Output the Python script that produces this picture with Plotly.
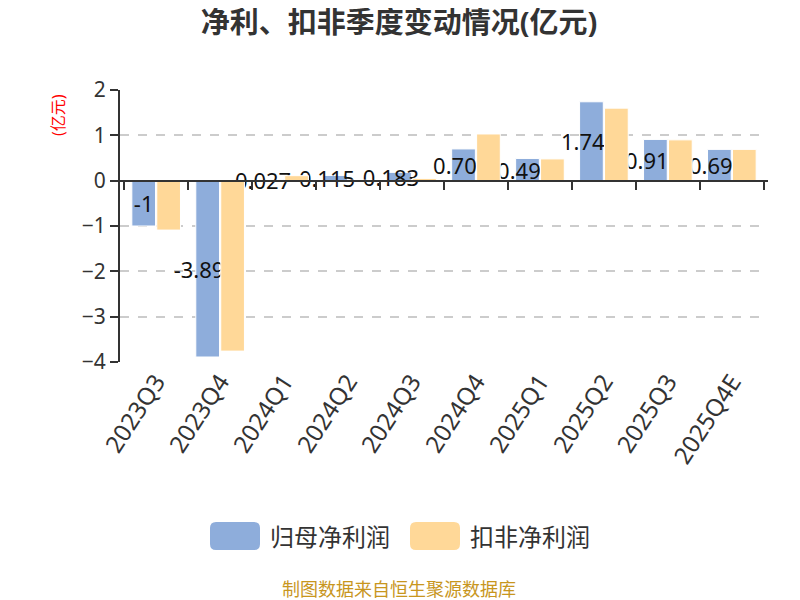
import plotly.graph_objects as go

# 季度
quarters = ["2023Q3", "2023Q4", "2024Q1", "2024Q2", "2024Q3",
            "2024Q4", "2025Q1", "2025Q2", "2025Q3", "2025Q4E"]
# 归母净利润(亿元)
net_profit = [-1.0, -3.89, 0.027, 0.115, 0.183, 0.70, 0.49, 1.74, 0.91, 0.69]
net_profit_labels = ["-1", "-3.89", "0.027", "0.115", "0.183",
                     "0.70", "0.49", "1.74", "0.91", "0.69"]
# 扣非净利润(亿元)
deducted_profit = [-1.09, -3.76, 0.11, 0.01, 0.05, 1.03, 0.48, 1.60, 0.90, 0.69]

series_names = ["归母净利润", "扣非净利润"]
series_colors = ["#8eaddb", "#ffd898"]

y_min, y_max = -4, 2
FONT = "Noto Sans, Noto Sans CJK SC, sans-serif"

W, H = 800, 600
OFF = 8  # 页面默认边距
M = dict(l=112, r=40, t=82, b=246)
PW, PH = W - M["l"] - M["r"], H - M["t"] - M["b"]


def px(x):
    return (x - OFF - M["l"]) / PW


def py(y):
    return (H - M["b"] - (y - OFF)) / PH


# 原图的数值标签略偏左, 用不换行空格补齐
label_text = [t + "\u00a0" * (3 if len(t) > 2 else 0) for t in net_profit_labels]

fig = go.Figure()
fig.add_trace(go.Bar(
    x=quarters, y=net_profit, name=series_names[0],
    marker=dict(color=series_colors[0], line=dict(color="#ffffff", width=1)),
    text=label_text, textposition="inside", insidetextanchor="middle",
    constraintext="none", textangle=0,
    insidetextfont=dict(color="#111111", size=22, family=FONT),
    cliponaxis=False, hoverinfo="x+y", showlegend=False,
))
fig.add_trace(go.Bar(
    x=quarters, y=deducted_profit, name=series_names[1],
    marker=dict(color=series_colors[1], line=dict(color="#ffffff", width=1)),
    textposition="none", hoverinfo="x+y", showlegend=False,
))
# 零轴上的刻度线
fig.add_trace(go.Scatter(x=quarters, y=[None] * len(quarters), xaxis="x2",
                         showlegend=False, hoverinfo="skip"))

zero_pos = (0 - y_min) / (y_max - y_min)

# 图例(圆角色块 + 文字)
shapes = []
annotations = []
for i, (name, color) in enumerate(zip(series_names, series_colors)):
    x0, x1, y0, y1, r = 210 + i * 200, 260 + i * 200, 522, 550, 6
    path = (f"M {px(x0 + r)} {py(y0)} L {px(x1 - r)} {py(y0)} "
            f"Q {px(x1)} {py(y0)} {px(x1)} {py(y0 + r)} L {px(x1)} {py(y1 - r)} "
            f"Q {px(x1)} {py(y1)} {px(x1 - r)} {py(y1)} L {px(x0 + r)} {py(y1)} "
            f"Q {px(x0)} {py(y1)} {px(x0)} {py(y1 - r)} L {px(x0)} {py(y0 + r)} "
            f"Q {px(x0)} {py(y0)} {px(x0 + r)} {py(y0)} Z")
    shapes.append(dict(type="path", xref="paper", yref="paper", path=path,
                       fillcolor=color, line=dict(width=0)))
    annotations.append(dict(text=name, xref="paper", yref="paper",
                            x=px(x1 + 8), y=py(536), xanchor="left", yanchor="middle",
                            showarrow=False, font=dict(size=24, color="#333333")))

annotations += [
    dict(text="(亿元)", xref="paper", yref="paper", x=px(58), y=py(115),
         xanchor="center", yanchor="middle", textangle=-90, showarrow=False,
         font=dict(size=16, color="#ff0000")),
    dict(text="制图数据来自恒生聚源数据库", xref="paper", yref="paper",
         x=px(399), y=py(589), xanchor="center", yanchor="middle",
         showarrow=False, font=dict(size=18, color="#c8961e")),
]

fig.update_layout(
    width=W, height=H,
    paper_bgcolor="white", plot_bgcolor="white",
    font=dict(family=FONT, color="#333333"),
    title=dict(text="<b>净利、扣非季度变动情况(亿元)</b>", x=(399 - OFF) / W,
               xanchor="center", y=1 - (23 - OFF) / H, yanchor="middle",
               font=dict(size=29, color="#333333")),
    margin=dict(**M, autoexpand=False),
    barmode="group", bargap=0.22, bargroupgap=0.05,
    showlegend=False,
    xaxis=dict(type="category", tickangle=-57, showline=False, ticks="",
               showgrid=False, zeroline=False,
               tickfont=dict(size=24, color="#333333")),
    xaxis2=dict(type="category", overlaying="x", anchor="free", position=zero_pos,
                matches="x", showline=True, linecolor="#333333", linewidth=2,
                ticks="outside", tickson="boundaries", ticklen=8,
                tickcolor="#333333", tickwidth=2,
                showticklabels=False, showgrid=False, zeroline=False),
    yaxis=dict(range=[y_min, y_max], dtick=1, showline=True, linecolor="#333333",
               linewidth=2, ticks="outside", ticklen=8, tickcolor="#333333",
               tickwidth=2, showgrid=True, gridcolor="#cccccc", griddash="dash",
               gridwidth=1.5, zeroline=False,
               tickfont=dict(size=21, color="#333333")),
    shapes=shapes,
    annotations=annotations,
)

fig.write_html("out.html")
